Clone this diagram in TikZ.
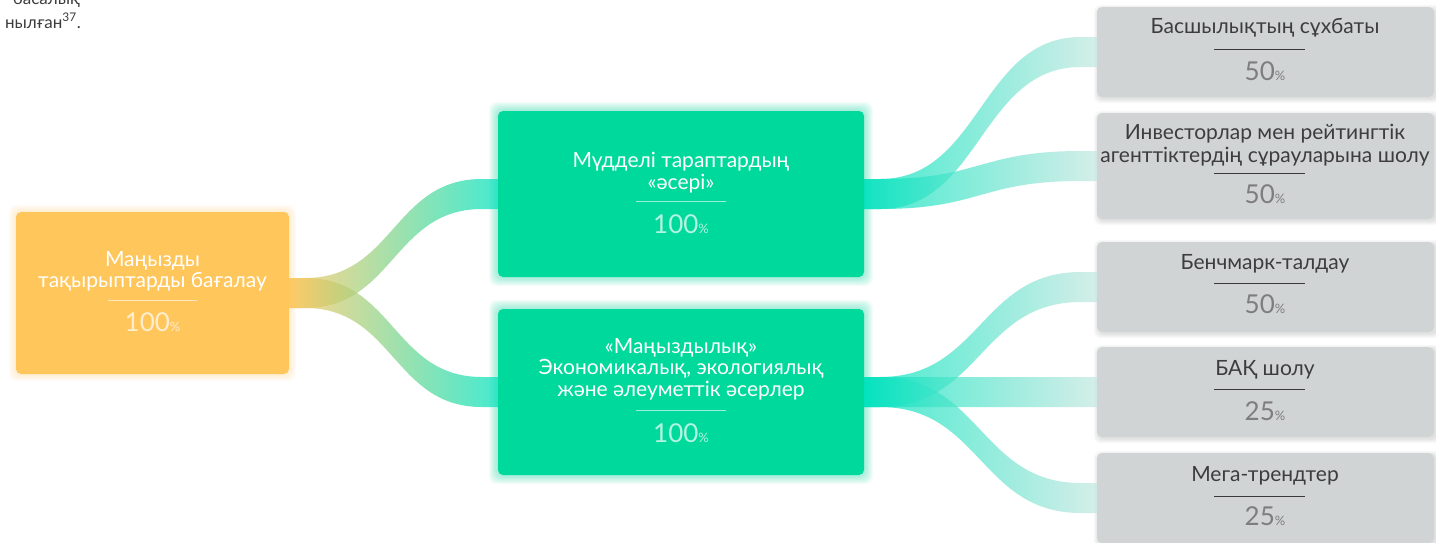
\documentclass[tikz,border=0pt]{standalone}
\usepackage{fontspec}
\setmainfont{Lato}
\usetikzlibrary{calc}
\definecolor{org}{HTML}{FFC65B}
\definecolor{grn}{HTML}{00D99C}
\definecolor{cyn}{HTML}{00E3BE}
\definecolor{gry}{HTML}{D1D4D5}
\definecolor{pale}{HTML}{C4E8E0}
\definecolor{txt}{HTML}{3D3D3D}
\definecolor{pctc}{HTML}{7E7E7E}
\definecolor{ruledark}{HTML}{3A3A3A}
\pgfdeclarelayer{shadow}\pgfdeclarelayer{ribbon}
\pgfsetlayers{shadow,ribbon,main}
\newcommand\pc{{\fontsize{13}{13}\selectfont\%}}
\newcommand\ribbon[4]{%
 \shade[left color=#3, right color=#4, fill opacity=0.72] let \p1=(#1.east), \p2=(#2.west), \n1={0.5*(\x1+\x2)} in
 (\x1,{\y1+15pt}) -- ({\x1+16pt},{\y1+15pt}) .. controls (\n1,{\y1+15pt}) and (\n1,{\y2+15pt}) .. ({\x2-16pt},{\y2+15pt}) -- (\x2,{\y2+15pt})
 -- (\x2,{\y2-15pt}) -- ({\x2-16pt},{\y2-15pt}) .. controls (\n1,{\y2-15pt}) and (\n1,{\y1-15pt}) .. ({\x1+16pt},{\y1-15pt}) -- (\x1,{\y1-15pt}) -- cycle;}
\tikzset{
 card/.style={rounded corners=5pt, inner sep=0pt, draw=none},
 orangecard/.style={card, fill=org},
 greencard/.style={card, fill=grn, minimum width=366pt, minimum height=166pt},
 graycard/.style={card, fill=gry, minimum width=337pt},
 wtitle/.style={align=center, text=white, font=\fontsize{21}{21.5}\selectfont, inner sep=0pt},
 dtitle/.style={align=center, text=txt, font=\fontsize{21}{23}\selectfont, inner sep=0pt},
 wpct/.style={text=white, text opacity=0.7, font=\fontsize{26}{26}\selectfont, inner sep=0pt},
 dpct/.style={text=pctc, font=\fontsize{26}{26}\selectfont, inner sep=0pt},
 wrule/.style={draw=white, draw opacity=0.6, line width=1pt},
 drule/.style={draw=ruledark, line width=1pt},
 note/.style={text=txt, font=\fontsize{17}{20}\selectfont, inner sep=0pt}
}
\begin{document}
\begin{tikzpicture}[x=1pt,y=-1pt]
\useasboundingbox (0,0) rectangle (1436,542);
% top-left fragment
\node[note, anchor=base east] (n1) at (80,4) {басалық};
\node[note, anchor=base east] (n2) at (81,28) {нылған\textsuperscript{37}.};
% boxes
\node[orangecard, minimum width=273pt, minimum height=162pt] (o) at (152.5,293) {};
\node[greencard] (g1) at (681,194) {};
\node[greencard] (g2) at (681,392) {};
\node[graycard, minimum height=90pt] (s1) at (1265.5,52) {};
\node[graycard, minimum height=106pt] (s2) at (1265.5,166) {};
\node[graycard, minimum height=90pt] (s3) at (1265.5,287) {};
\node[graycard, minimum height=90pt] (s4) at (1265.5,392) {};
\node[graycard, minimum height=90pt] (s5) at (1265.5,498) {};
% glows and shadows
\begin{pgfonlayer}{shadow}
 \fill[white] (0,0) rectangle (1436,542);
 \foreach \b in {g1,g2}{
  \foreach \i in {1,...,9}{
   \fill[grn, opacity=0.045, rounded corners=8pt] ($(\b.south west)+(-\i,\i)$) rectangle ($(\b.north east)+(\i,-\i)$);
  }}
 \foreach \i in {1,...,7}{
   \fill[org, opacity=0.04, rounded corners=8pt] ($(o.south west)+(-\i,\i)$) rectangle ($(o.north east)+(\i,-\i)$);
 }
 \foreach \b in {s1,s2,s3,s4,s5}{
  \foreach \i in {1,...,5}{
   \fill[black, opacity=0.025, rounded corners=7pt] ($(\b.south west)+(-\i+2,\i+1)$) rectangle ($(\b.north east)+(\i+2,-\i+3)$);
  }}
\end{pgfonlayer}
% ribbons
\begin{pgfonlayer}{ribbon}
 \ribbon{o}{g1}{org}{cyn}
 \ribbon{o}{g2}{org}{cyn}
 \ribbon{g1}{s1}{cyn}{pale}
 \ribbon{g1}{s2}{cyn}{pale}
 \ribbon{g2}{s3}{cyn}{pale}
 \ribbon{g2}{s4}{cyn}{pale}
 \ribbon{g2}{s5}{cyn}{pale}
\end{pgfonlayer}
% orange text
\node[wtitle] (ot) at (152.5,271.5) {Маңызды\\тақырыптарды бағалау};
\draw[wrule] (108,300) -- (197,300);
\node[wpct] (op) at (152.5,322) {100\pc};
% green 1
\node[wtitle] (g1t) at (681,172.5) {Мүдделі тараптардың\\«әсері»};
\draw[wrule] (636,201) -- (726,201);
\node[wpct] (g1p) at (681,224) {100\pc};
% green 2
\node[wtitle] (g2t) at (681,369) {«Маңыздылық»\\Экономикалық, экологиялық\\және әлеуметтік әсерлер};
\draw[wrule] (636,410) -- (726,410);
\node[wpct] (g2p) at (681,433) {100\pc};
% gray boxes
\node[dtitle] (s1t) at (1265,28) {Басшылықтың сұхбаты};
\draw[drule] (1214,49) -- (1305,49);
\node[dpct] (s1p) at (1265,71.5) {50\pc};
\node[dtitle] (s2t) at (1265,145) {Инвесторлар мен рейтингтік\\агенттіктердің сұрауларына шолу};
\draw[drule] (1214,173) -- (1305,173);
\node[dpct] (s2p) at (1265,194) {50\pc};
\node[dtitle] (s3t) at (1265,264) {Бенчмарк-талдау};
\draw[drule] (1214,283) -- (1305,283);
\node[dpct] (s3p) at (1265,304) {50\pc};
\node[dtitle] (s4t) at (1265,370) {БАҚ шолу};
\draw[drule] (1214,389) -- (1305,389);
\node[dpct] (s4p) at (1265,411) {25\pc};
\node[dtitle] (s5t) at (1265,476) {Мега-трендтер};
\draw[drule] (1214,496) -- (1305,496);
\node[dpct] (s5p) at (1265,516) {25\pc};
\end{tikzpicture}
\end{document}
